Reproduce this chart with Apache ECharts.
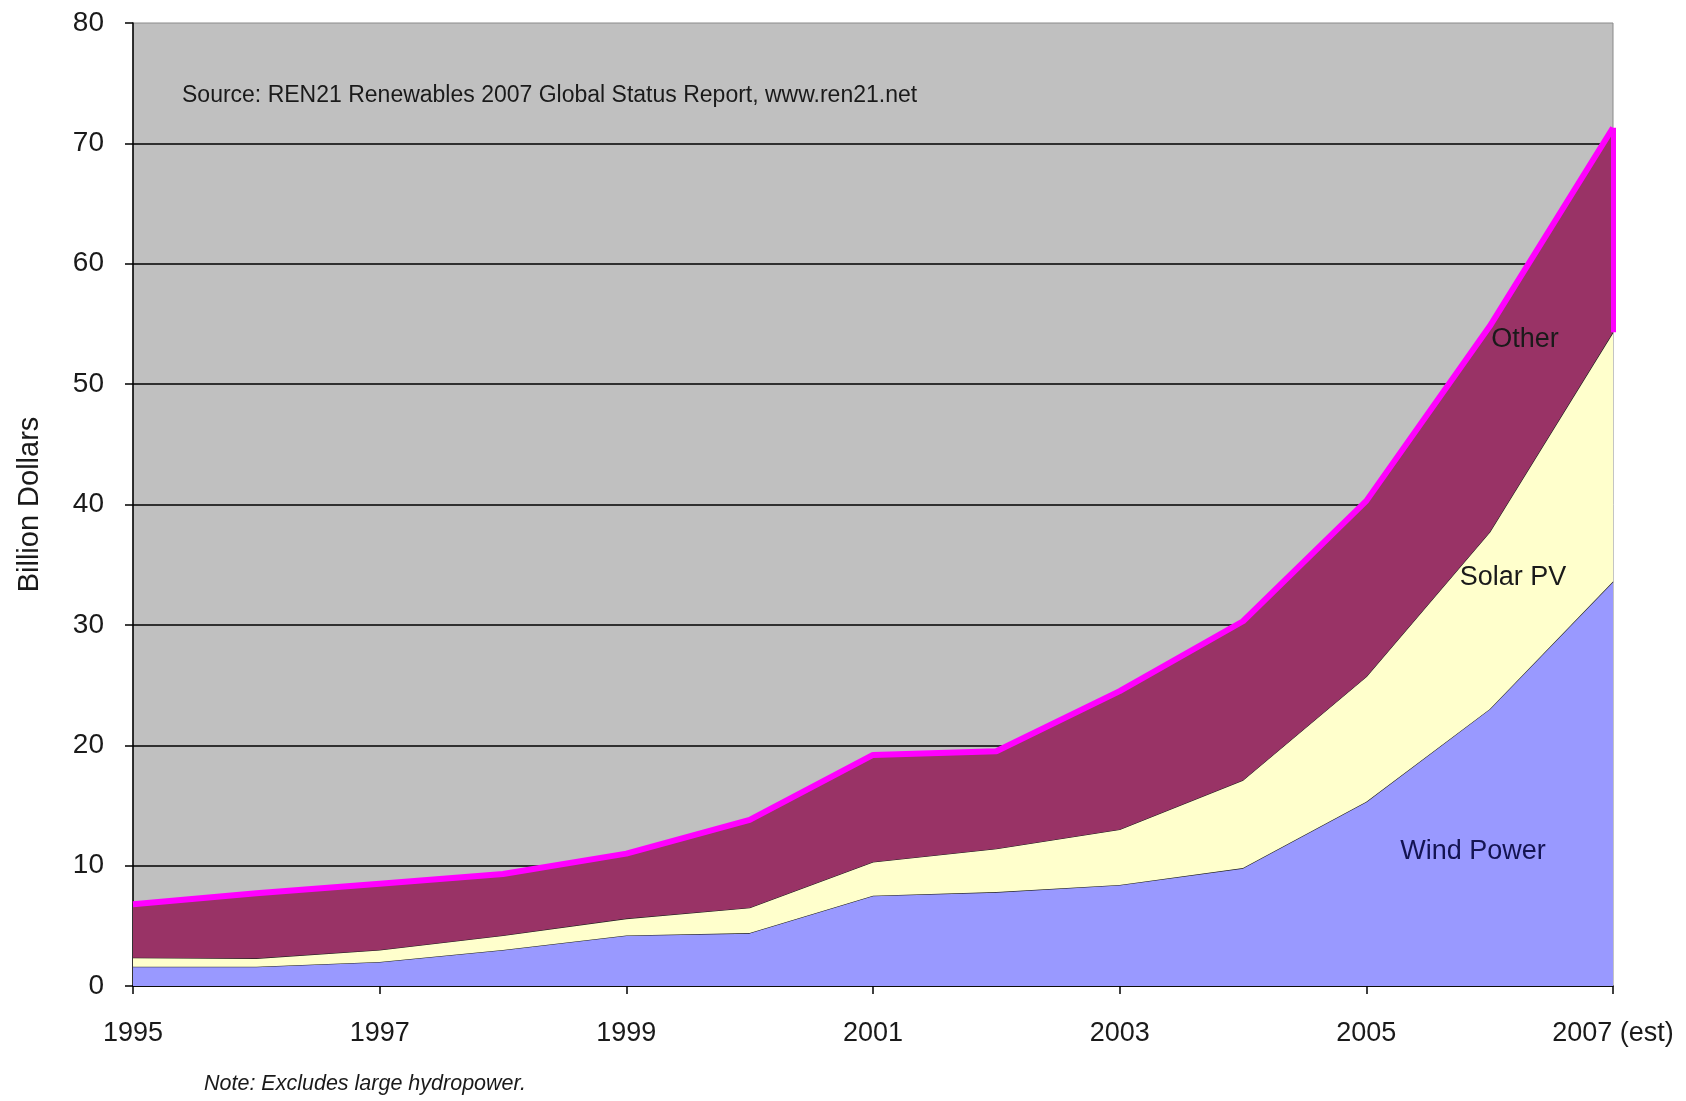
<!DOCTYPE html>
<html>
<head>
<meta charset="utf-8">
<title>Global Investment in Renewable Energy, 1995-2007</title>
<script src="https://cdn.jsdelivr.net/npm/echarts@6/dist/echarts.min.js"></script>
<style>
  html, body { margin: 0; padding: 0; background: #ffffff; }
  #chart { width: 1686px; height: 1101px; }
</style>
</head>
<body>
<div id="chart"></div>
<script>
// Annual investment in new renewable capacity, billion US dollars
const years = ['1995', '1996', '1997', '1998', '1999', '2000', '2001',
               '2002', '2003', '2004', '2005', '2006', '2007 (est)'];
const windPower = [1.6, 1.6, 2.0, 3.0, 4.2, 4.4, 7.5, 7.8, 8.4, 9.8, 15.3, 23.0, 33.6];
const solarPV   = [0.75, 0.7, 1.0, 1.2, 1.4, 2.1, 2.8, 3.6, 4.6, 7.3, 10.4, 14.7, 20.7];
const otherRE   = [4.45, 5.4, 5.5, 5.1, 5.4, 7.3, 8.9, 8.1, 11.5, 13.2, 14.6, 17.1, 17.0];
const yTicks = { min: 0, max: 80, step: 10 };

const FONT = "'Liberation Sans', Arial, Helvetica, sans-serif";
const TEXT = '#1a1a1a';

// Right-hand edge of the "Other" band, taken from the stacked values
const last = years.length - 1;
const otherBase = windPower[last] + solarPV[last];
const otherTop = otherBase + otherRE[last];

const chart = echarts.init(document.getElementById('chart'), null, { renderer: 'canvas' });

chart.setOption({
  backgroundColor: '#ffffff',
  animation: false,
  grid: {
    left: 133, right: 73, top: 23, bottom: 115,
    show: true,
    backgroundColor: '#c0c0c0',
    borderColor: '#8a8a8a',
    borderWidth: 1
  },
  xAxis: {
    type: 'category',
    data: years,
    boundaryGap: false,
    axisLine: { lineStyle: { color: '#000', width: 1.5 } },
    axisTick: { show: true, interval: 1, length: 8, lineStyle: { color: '#000', width: 1.5 } },
    axisLabel: { interval: 1, margin: 34, fontFamily: FONT, fontSize: 27, color: TEXT },
    splitLine: { show: false }
  },
  yAxis: {
    type: 'value',
    min: yTicks.min,
    max: yTicks.max,
    interval: yTicks.step,
    name: 'Billion Dollars',
    nameLocation: 'middle',
    nameRotate: 90,
    nameGap: 89,
    nameTextStyle: { fontFamily: FONT, fontSize: 29, color: TEXT },
    axisLine: { show: true, lineStyle: { color: '#000', width: 1.5 } },
    axisTick: { show: true, length: 8, lineStyle: { color: '#000', width: 1.5 } },
    axisLabel: { margin: 29, fontFamily: FONT, fontSize: 28, color: TEXT },
    splitLine: { show: true, showMaxLine: false, lineStyle: { color: '#000', width: 1.5 } }
  },
  series: [
    {
      name: 'Wind Power',
      type: 'line',
      stack: 'total',
      data: windPower,
      symbol: 'none',
      lineStyle: { color: '#222', width: 1.2 },
      areaStyle: { color: '#9999ff', opacity: 1 },
      z: 2
    },
    {
      name: 'Solar PV',
      type: 'line',
      stack: 'total',
      data: solarPV,
      symbol: 'none',
      lineStyle: { color: '#222', width: 1.2 },
      areaStyle: { color: '#ffffcc', opacity: 1 },
      z: 3
    },
    {
      name: 'Other',
      type: 'line',
      stack: 'total',
      data: otherRE,
      symbol: 'none',
      lineStyle: { color: '#ff00ff', width: 6 },
      areaStyle: { color: '#993366', opacity: 1 },
      z: 4,
      markLine: {
        silent: true,
        symbol: ['none', 'none'],
        label: { show: false },
        lineStyle: { color: '#ff00ff', width: 5, type: 'solid' },
        data: [[{ coord: [last, otherBase] }, { coord: [last, otherTop] }]]
      }
    }
  ],
  graphic: [
    {
      type: 'text', x: 182, y: 96, z: 10,
      style: {
        text: 'Source: REN21 Renewables 2007 Global Status Report, www.ren21.net',
        font: '23px ' + FONT, fill: TEXT, verticalAlign: 'middle'
      }
    },
    {
      type: 'text', x: 1525, y: 340, z: 10,
      style: { text: 'Other', font: '27px ' + FONT, fill: '#1a1a1a', align: 'center', verticalAlign: 'middle' }
    },
    {
      type: 'text', x: 1513, y: 578, z: 10,
      style: { text: 'Solar PV', font: '27px ' + FONT, fill: '#1a1a1a', align: 'center', verticalAlign: 'middle' }
    },
    {
      type: 'text', x: 1473, y: 852, z: 10,
      style: { text: 'Wind Power', font: '27px ' + FONT, fill: '#141452', align: 'center', verticalAlign: 'middle' }
    },
    {
      type: 'text', x: 204, y: 1084, z: 10,
      style: { text: 'Note: Excludes large hydropower.', font: 'italic 21.5px ' + FONT, fill: TEXT, verticalAlign: 'middle' }
    }
  ]
});
</script>
</body>
</html>
